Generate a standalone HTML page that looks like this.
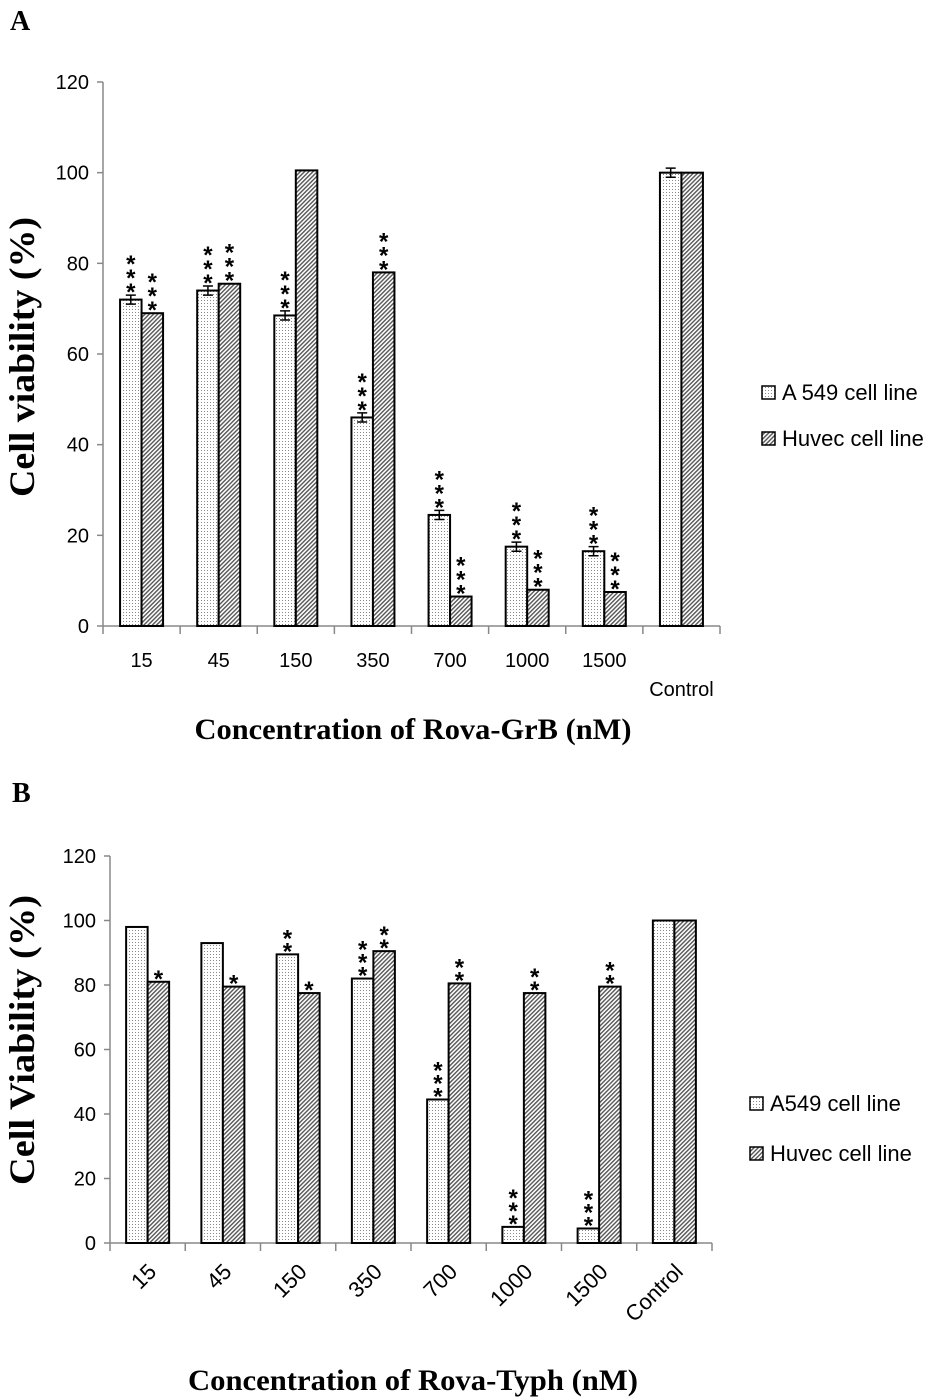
<!DOCTYPE html>
<html><head><meta charset="utf-8"><style>
body{margin:0;background:#fff}
svg{display:block}
text{font-family:"Liberation Sans",sans-serif}
.serif{font-family:"Liberation Serif",serif;font-weight:bold}
</style></head><body>
<svg id="s" width="935" height="1398" viewBox="0 0 935 1398" xmlns="http://www.w3.org/2000/svg">
<defs>
<pattern id="dots" width="3" height="3" patternUnits="userSpaceOnUse"><rect width="3" height="3" fill="#fff"/><rect width="1" height="1" fill="#888"/></pattern>
<pattern id="hatch" width="3" height="3" patternUnits="userSpaceOnUse" patternTransform="rotate(45)"><rect width="3" height="3" fill="#fff"/><rect width="1.4" height="3" fill="#555"/></pattern>
</defs>
</svg>
<script>
const categoriesA=["15","45","150","350","700","1000","1500","Control"];
const a549A=[72,74,68.5,46,24.5,17.5,16.5,100];
const huvecA=[69,75.5,100.5,78,6.5,8,7.5,100];
const errA=[1,1,1,1,1,1,1,1];
const starsA549A=["***","***","***","***","***","***","***",""];
const starsHuvecA=["***","***","","***","***","***","***",""];
const categoriesB=["15","45","150","350","700","1000","1500","Control"];
const a549B=[98,93,89.5,82,44.5,5,4.5,100];
const huvecB=[81,79.5,77.5,90.5,80.5,77.5,79.5,100];
const starsA549B=["","","**","***","***","***","***",""];
const starsHuvecB=["*","*","*","**","**","**","**",""];
const ticks=[0,20,40,60,80,100,120];

const NS="http://www.w3.org/2000/svg";
const svg=document.getElementById('s');
function el(tag,attrs,parent,txt){const e=document.createElementNS(NS,tag);for(const k in attrs)e.setAttribute(k,attrs[k]);if(txt!==undefined)e.textContent=txt;(parent||svg).appendChild(e);return e;}

function chart(cfg){
  const g=el('g',{});
  
  
  const y=v=>cfg.y0-(v/120)*(cfg.y0-cfg.y120);
  const step=(cfg.x1-cfg.x0)/cfg.cats.length;
  const xc=i=>cfg.x0+step*(i+0.5);
  const ya=el('line',{x1:cfg.x0,y1:cfg.y120,x2:cfg.x0,y2:cfg.y0,stroke:'#888','stroke-width':1.5},g);
  
  const xa=el('line',{x1:cfg.x0,y1:cfg.y0,x2:cfg.x1,y2:cfg.y0,stroke:'#888','stroke-width':1.5},g);
  
  ticks.forEach(t=>{
    el('line',{x1:cfg.x0-6,y1:y(t),x2:cfg.x0,y2:y(t),stroke:'#888','stroke-width':1.5},g);
    const tl=el('text',{x:cfg.x0-14,y:y(t)+7,'text-anchor':'end','font-size':20},g,String(t));
    
  });
  for(let i=0;i<=cfg.cats.length;i++){
    el('line',{x1:cfg.x0+step*i,y1:cfg.y0,x2:cfg.x0+step*i,y2:cfg.y0+8,stroke:'#888','stroke-width':1.5},g);
  }
  const bw=cfg.bw;
  cfg.cats.forEach((c,i)=>{
    const cx=xc(i);
    const b1=el('rect',{x:cx-bw,y:y(cfg.a[i]),width:bw,height:cfg.y0-y(cfg.a[i]),fill:'url(#dots)',stroke:'#000','stroke-width':2},g);
    
    const b2=el('rect',{x:cx,y:y(cfg.h[i]),width:bw,height:cfg.y0-y(cfg.h[i]),fill:'url(#hatch)',stroke:'#000','stroke-width':2},g);
    
    let topA=y(cfg.a[i]);
    if(cfg.err){
      const e=cfg.err[i],x=cx-bw/2;
      el('path',{d:`M${x-5},${y(cfg.a[i]+e)}h10M${x},${y(cfg.a[i]+e)}V${y(cfg.a[i]-e)}M${x-5},${y(cfg.a[i]-e)}h10`,stroke:'#000','stroke-width':1.5,fill:'none'},g);
      topA=y(cfg.a[i]+e);
    }
    [[cfg.sa[i],cx-bw/2,topA],[cfg.sh[i],cx+bw/2,y(cfg.h[i])]].forEach(([s,sx,sy])=>{
      for(let k=0;k<s.length;k++){
        const st=el('text',{x:sx,y:sy+5-k*cfg.sg,'text-anchor':'middle','font-size':24,'font-weight':'bold'},g,'*');
        
      }
    });
    let lbl;
    if(cfg.rot){
      lbl=el('text',{x:0,y:0,'text-anchor':'end','font-size':22,transform:`translate(${cx+10},${cfg.y0+30}) rotate(-45)`},g,c);
    } else if(c==="Control"){
      lbl=el('text',{x:cx,y:cfg.y0+70,'text-anchor':'middle','font-size':20},g,c);
    } else {
      lbl=el('text',{x:cx,y:cfg.y0+41,'text-anchor':'middle','font-size':20},g,c);
    }
    
  });
}

chart({name:'chart-a',cats:categoriesA,a:a549A,h:huvecA,err:errA,sa:starsA549A,sh:starsHuvecA,x0:103,x1:720,y0:626,y120:82,bw:21.5,sg:14,rot:false});
chart({name:'chart-b',cats:categoriesB,a:a549B,h:huvecB,err:null,sa:starsA549B,sh:starsHuvecB,x0:110,x1:712,y0:1243,y120:856,bw:21.5,sg:13,rot:true});

function txt(name,attrs,t){const e=el('text',attrs,svg,t);return e;}
txt('panel-label-a',{x:10,y:30,'font-size':28,class:'serif'},'A');
txt('panel-label-b',{x:12,y:802,'font-size':28,class:'serif'},'B');
txt('y-axis-title-a',{x:0,y:0,'font-size':36,class:'serif','text-anchor':'middle',textLength:280,lengthAdjust:'spacingAndGlyphs',transform:'translate(34,357) rotate(-90)'},'Cell viability (%)');
txt('x-axis-title-a',{x:413,y:739,'font-size':30,class:'serif','text-anchor':'middle',textLength:437,lengthAdjust:'spacingAndGlyphs'},'Concentration of Rova-GrB (nM)');
txt('y-axis-title-b',{x:0,y:0,'font-size':36,class:'serif','text-anchor':'middle',textLength:290,lengthAdjust:'spacingAndGlyphs',transform:'translate(34,1040) rotate(-90)'},'Cell Viability (%)');
txt('x-axis-title-b',{x:413,y:1390,'font-size':30,class:'serif','text-anchor':'middle',textLength:450,lengthAdjust:'spacingAndGlyphs'},'Concentration of Rova-Typh (nM)');

function legend(name,x,y,fill,label){
  const g=el('g',{});
  el('rect',{x:x,y:y-14,width:13,height:13,fill:fill,stroke:'#000','stroke-width':1.5},g);
  el('text',{x:x+20,y:y,'font-size':22},g,label);
}
legend('legend-a549-a',762,400,'url(#dots)','A 549 cell line');
legend('legend-huvec-a',762,446,'url(#hatch)','Huvec cell line');
legend('legend-a549-b',750,1111,'url(#dots)','A549 cell line');
legend('legend-huvec-b',750,1161,'url(#hatch)','Huvec cell line');
</script>
</body></html>
